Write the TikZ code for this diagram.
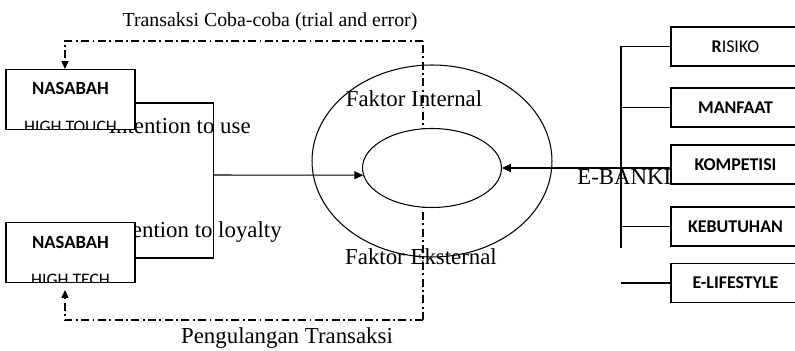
\documentclass[tikz,border=0pt]{standalone}
\usepackage{fontspec}
\setmainfont{Liberation Serif}
\newfontfamily\boxfont{Carlito}
\usetikzlibrary{shapes.geometric,arrows.meta,positioning}
\tikzset{
  custbox/.style={rectangle,draw=black,line width=0.6pt,fill=white,
              minimum width=2.58cm,minimum height=1.2cm,inner sep=0pt},
  factbox/.style={rectangle,draw=black,line width=0.6pt,fill=white,
              minimum width=2.58cm,minimum height=0.78cm,inner sep=0pt,
              font=\boxfont\bfseries\fontsize{10.2}{12}\selectfont},
  boxtitle/.style={inner sep=0pt,font=\boxfont\bfseries\fontsize{10.6}{12}\selectfont},
  boxsub/.style={inner sep=0pt,font=\boxfont\fontsize{10}{12}\selectfont},
  lbl/.style={inner sep=0pt,font=\fontsize{13}{15}\selectfont},
  ring/.style={ellipse,draw=black,line width=0.6pt,inner sep=0pt},
  link/.style={draw=black,line width=0.6pt},
  loopline/.style={draw=black,line width=0.6pt,dash pattern=on 4.5pt off 2pt on 1pt off 2pt},
  feed/.style={loopline,-{Triangle[length=4.5pt,width=4pt]}},
  into/.style={draw=black,line width=0.6pt,-{Triangle[length=5pt,width=4.5pt]}},
}

\begin{document}
\begin{tikzpicture}[x=0.02cm,y=-0.02cm]
  \clip (0,0) rectangle (795,351);
  \fill[white] (0,0) rectangle (795,351);

  % labels lying under the boxes
  \node[lbl,anchor=base east] (useint) at (251,134) {Intention to use};
  \node[lbl,anchor=base east] (loyint) at (282,238) {Intention to loyalty};
  \node[lbl,anchor=base west] (ebank) at (577,185) {E-BANKING};

  % trial and repeat loop
  \coordinate (trtop) at (423,41);
  \coordinate (trbot) at (423,320);
  \node[lbl,anchor=base,font=\fontsize{11.3}{13}\selectfont] (trial) at (270,27) {Transaksi Coba-coba (trial and error)};
  \node[lbl,anchor=base] (repeat) at (287,344) {Pengulangan Transaksi};

  % customers
  \node[custbox] (nas1) at (70.5,99.5) {};
  \node[custbox] (nas2) at (70.5,252.5) {};
  \node[boxtitle] (nas1title) at ([yshift=0.23cm]nas1.center) {NASABAH};
  \node[boxtitle] (nas2title) at ([yshift=0.21cm]nas2.center) {NASABAH};
  \begin{scope}
    \clip ([yshift=0.3pt]nas1.south west) rectangle (nas1.north east);
    \node[boxsub,anchor=base] (touch) at ([yshift=-0.05cm]nas1.south) {HIGH TOUCH};
  \end{scope}
  \begin{scope}
    \clip ([yshift=0.3pt]nas2.south west) rectangle (nas2.north east);
    \node[boxsub,anchor=base] (tech) at ([yshift=-0.05cm]nas2.south) {HIGH TECH};
  \end{scope}

  \draw[loopline] (trbot) -- (trtop);
  \draw[feed] (trtop) -| ([xshift=-0.11cm]nas1.north);
  \draw[feed,shorten >=0.14cm] (trbot) -| ([xshift=-0.11cm]nas2.south);

  % e-banking core
  \node[ring,minimum width=4.8cm,minimum height=3.84cm] (outer) at (432,161) {};
  \node[ring,fill=white,minimum width=2.78cm,minimum height=1.58cm] (inner) at (432,168) {};
  \node[lbl,anchor=base] (fint) at (414,107) {Faktor Internal};
  \node[lbl,anchor=base] (feks) at (421,265) {Faktor Eksternal};

  \coordinate (join) at (213,175);
  \draw[link] ([yshift=-0.07cm]nas1.east) -- ++(78,0) |- ([yshift=-0.11cm]nas2.east);
  \draw[into] (join) -- (inner.186);

  % factors
  \node[factbox] (risiko) at (735.5,46.5) {R\mdseries ISIKO};
  \node[factbox] (manfaat) at (735.5,107.5) {MANFAAT};
  \node[factbox] (komp) at (735.5,164.5) {KOMPETISI};
  \node[factbox] (kebut) at (735.5,226.5) {KEBUTUHAN};
  \node[factbox] (elife) at (735.5,283) {E-LIFESTYLE};

  \coordinate (busbot) at (621,248);
  \draw[link] (risiko.west) -- (risiko.west -| busbot) -- (busbot);
  \draw[link] (manfaat.west) -- (manfaat.west -| busbot);
  \draw[link] (kebut.west) -- (kebut.west -| busbot);
  \draw[link] (elife.west) -- (elife.west -| busbot);
  \draw[into] (komp.west |- inner.east) -- (inner.east);
\end{tikzpicture}
\end{document}
